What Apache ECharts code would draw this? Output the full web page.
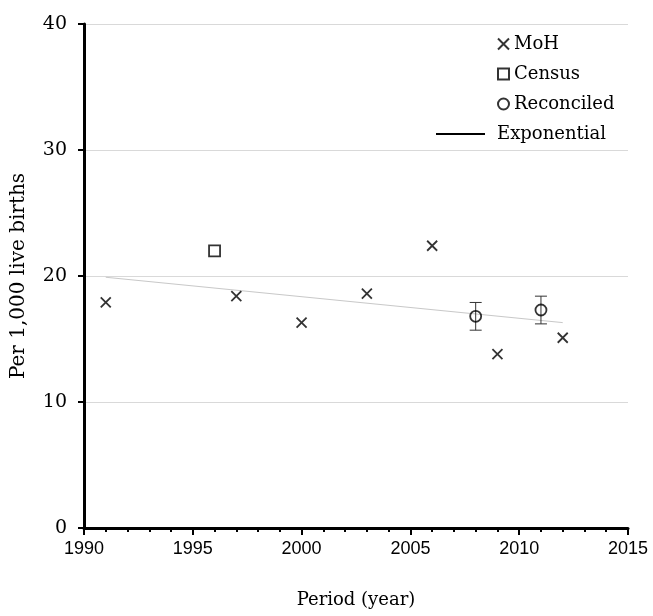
<!DOCTYPE html>
<html><head><meta charset="utf-8">
<script src="https://cdn.jsdelivr.net/npm/echarts@6/dist/echarts.min.js"></script>
<style>html,body{margin:0;padding:0;background:#fff}#c{width:653px;height:616px}</style>
</head><body><div id="c"></div>
<script>
// Data
var mohYears = [1991, 1997, 2000, 2003, 2006, 2009, 2012];
var mohValues = [17.9, 18.4, 16.3, 18.6, 22.4, 13.8, 15.1];
var censusYears = [1996];
var censusValues = [22.0];
var recYears = [2008, 2011];
var recValues = [16.8, 17.3];
var recLow = [15.7, 16.2];
var recHigh = [17.9, 18.4];
var trendYears = [1991, 2012];
var trendValues = [19.9, 16.3];
var yTicks = [0, 10, 20, 30, 40];
var xTicks = [1990, 1995, 2000, 2005, 2010, 2015];

function pairs(xs, ys) { return xs.map(function (x, i) { return [x, ys[i]]; }); }

var serif = 'DejaVu Serif';
var sans = 'Liberation Sans';
var crossPath = 'path://M0,0L10,10M10,0L0,10';

var chart = echarts.init(document.getElementById('c'));
chart.setOption({
  animation: false,
  backgroundColor: '#fff',
  grid: { left: 84, right: 25, top: 24, bottom: 88 },
  legend: [
    {
      orient: 'vertical', left: 492, top: 29, itemWidth: 11, itemHeight: 11, itemGap: 10,
      textStyle: { fontFamily: serif, fontSize: 18, color: '#000', lineHeight: 20 },
      data: ['MoH', 'Census', 'Reconciled']
    },
    {
      orient: 'vertical', left: 431, top: 119, itemWidth: 49, itemHeight: 2,
      textStyle: { fontFamily: serif, fontSize: 18, color: '#000', lineHeight: 20, padding: [0, 0, 0, 7] },
      data: [{ name: 'Exponential', icon: 'rect', itemStyle: { color: '#000' } }]
    }
  ],
  xAxis: {
    type: 'value', min: xTicks[0], max: xTicks[xTicks.length - 1], interval: 5,
    name: 'Period (year)', nameLocation: 'middle', nameGap: 63,
    nameTextStyle: { fontFamily: serif, fontSize: 18, color: '#000' },
    axisLine: { show: true, lineStyle: { color: '#000', width: 3 } },
    axisTick: { show: true, length: 7, lineStyle: { color: '#000', width: 2 } },
    minorTick: { show: true, splitNumber: 5, length: 4, lineStyle: { color: '#000', width: 2 } },
    axisLabel: { fontFamily: sans, fontSize: 18, color: '#000', margin: 12, formatter: function (v) { return String(v); } },
    splitLine: { show: false }
  },
  yAxis: {
    type: 'value', min: yTicks[0], max: yTicks[yTicks.length - 1], interval: 10,
    name: 'Per 1,000 live births', nameLocation: 'middle', nameGap: 55,
    nameTextStyle: { fontFamily: serif, fontSize: 20, color: '#000' },
    axisLine: { show: true, lineStyle: { color: '#000', width: 3 } },
    axisTick: { show: true, length: 6, lineStyle: { color: '#000', width: 2 } },
    axisLabel: { fontFamily: serif, fontSize: 19, color: '#000', margin: 17 },
    splitLine: { show: true, lineStyle: { color: '#d9d9d9', width: 1 } }
  },
  series: [
    {
      name: 'Exponential', type: 'line', data: pairs(trendYears, trendValues),
      showSymbol: false, lineStyle: { color: '#c8c8c8', width: 1 }, itemStyle: { color: '#000' }, z: 1
    },
    {
      name: 'errors', type: 'custom', z: 2,
      data: recYears.map(function (x, i) { return [x, recLow[i], recHigh[i]]; }),
      renderItem: function (params, api) {
        var lo = api.coord([api.value(0), api.value(1)]);
        var hi = api.coord([api.value(0), api.value(2)]);
        var w = 6;
        var st = { stroke: '#333', lineWidth: 1 };
        return { type: 'group', children: [
          { type: 'line', shape: { x1: lo[0], y1: lo[1], x2: hi[0], y2: hi[1] }, style: st },
          { type: 'line', shape: { x1: lo[0] - w, y1: lo[1], x2: lo[0] + w, y2: lo[1] }, style: st },
          { type: 'line', shape: { x1: hi[0] - w, y1: hi[1], x2: hi[0] + w, y2: hi[1] }, style: st }
        ] };
      }
    },
    {
      name: 'MoH', type: 'scatter', data: pairs(mohYears, mohValues), symbol: crossPath, symbolSize: 10,
      itemStyle: { color: 'transparent', borderColor: '#000', borderWidth: 1.8 }, z: 3
    },
    {
      name: 'Census', type: 'scatter', data: pairs(censusYears, censusValues), symbol: 'rect', symbolSize: 11,
      itemStyle: { color: 'transparent', borderColor: '#000', borderWidth: 1.8 }, z: 3
    },
    {
      name: 'Reconciled', type: 'scatter', data: pairs(recYears, recValues), symbol: 'circle', symbolSize: 11,
      itemStyle: { color: 'transparent', borderColor: '#000', borderWidth: 1.8 }, z: 3
    }
  ]
});
</script></body></html>
